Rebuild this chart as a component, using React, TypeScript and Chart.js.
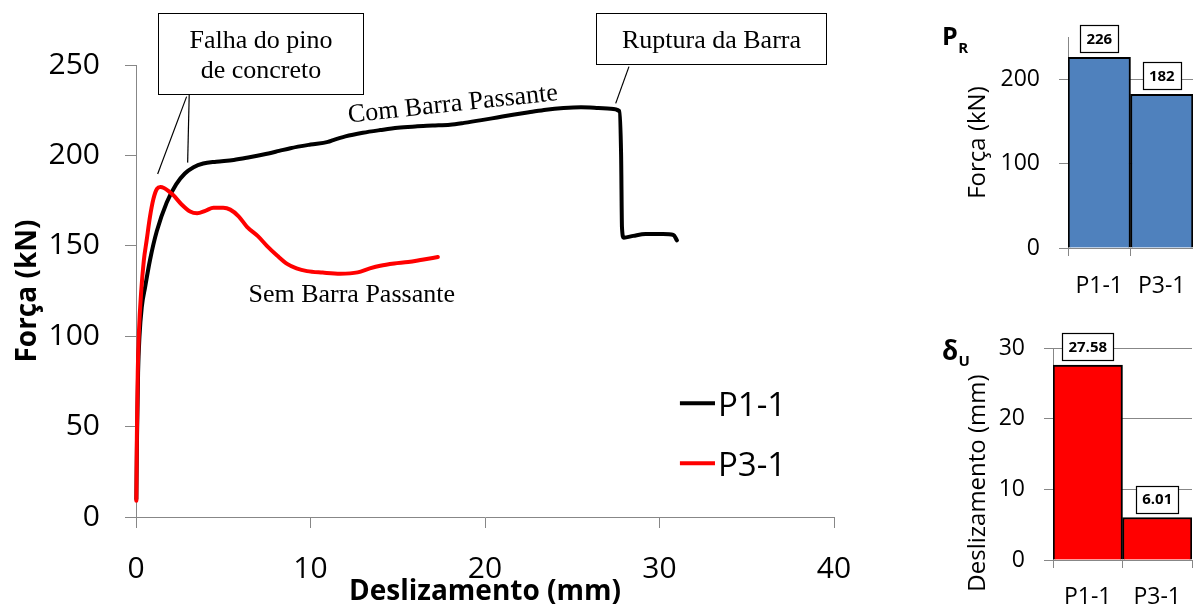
import React, { useEffect, useRef } from "react";
import { Chart, registerables } from "chart.js";

Chart.register(...registerables);

// ---------------- DATA ----------------
// P1-1 (com barra passante): slip (mm) vs force (kN)
const slipP1 = [
  0.02, 0.06, 0.12, 0.2, 0.33, 0.52, 0.8, 1.19, 1.76, 2.3, 2.8, 3.3, 3.85, 4.6, 5.6, 6.5, 7.3, 8.2, 8.85,
  10.0, 11.0, 11.3, 12.0, 13.0, 14.0, 15.0, 16.0, 17.0, 18.0, 18.8, 19.8, 20.7, 21.6, 22.6, 23.5, 24.5,
  25.5, 26.5, 27.2, 27.7, 27.8, 27.85, 27.95, 28.5, 29.2, 30.2, 30.8, 31.0,
];
const forceP1 = [
  10, 45, 80, 100, 116, 127, 142, 158, 174, 184, 190, 193.5, 195.5, 196.5, 197.5, 199, 200.5, 202.5, 204,
  206, 207.5, 208.5, 210.5, 212.5, 214, 215.3, 216, 216.5, 217, 218, 219.5, 221, 222.5, 224, 225.3, 226.2,
  226.6, 226.2, 225.8, 224.5, 200, 160, 154.5, 155.5, 156.5, 156.5, 156, 153,
];
// P3-1 (sem barra passante)
const slipP3 = [
  0.02, 0.05, 0.1, 0.17, 0.3, 0.45, 0.61, 0.8, 1.0, 1.2, 1.4, 1.6, 1.9, 2.14, 2.6, 3.1, 3.5, 4.0, 4.44,
  5.0, 5.4, 5.88, 6.36, 7.0, 7.5, 8.1, 8.66, 9.2, 9.8, 10.7, 11.7, 12.7, 13.4, 14.0, 14.8, 15.6, 16.4, 17.3,
];
const forceP3 = [
  9, 45, 80, 103, 125, 142, 153, 166, 176, 181.5, 182.5, 182, 180, 178, 173, 169, 168, 169.5, 171,
  171, 170, 166.3, 160.5, 155.2, 150, 144.5, 140, 137.5, 136, 135.2, 134.6, 135.3, 137.5, 139, 140.2, 141, 142.3, 143.8,
];
const seriesLabels = ["P1-1", "P3-1"];
const seriesColors = ["#000000", "#ff0000"];

// bar charts
const barCategories = ["P1-1", "P3-1"];
const ultimateForce = [226, 182];
const ultimateSlip = [27.58, 6.01];

// ---------------- STYLE / LAYOUT ----------------
const SANS = "'Open Sans', 'Noto Sans', sans-serif";
const SERIF = "'Liberation Serif', 'Times New Roman', serif";
const AXIS_GREY = "#878787";

// annotation placement (in axis units of the main chart)
const calloutBoxes = [
  { lines: ["Falha do pino", "de concreto"], x1: 1.24, x2: 13.03, yTop: 278.6, yBottom: 233.8, baselines: [259.2, 242.6] },
  { lines: ["Ruptura da Barra"], x1: 26.34, x2: 39.52, yTop: 278.6, yBottom: 250.4, baselines: [259.2] },
];
const leaderLines = [
  { from: [2.9, 232.5], to: [1.24, 189.7] },
  { from: [3.05, 234], to: [2.96, 196] },
  { from: [28.25, 249.1], to: [27.49, 228.8] },
];
const curveLabels = [
  { text: "Com Barra Passante", x: 18.2, y: 224.4, angle: -6.1 },
  { text: "Sem Barra Passante", x: 12.36, y: 119.1, angle: 0 },
];
const legendPos = { x1: 31.17, x2: 33.18, textX: 33.35, lineYs: [62.9, 29.7], baselines: [56.0, 22.8] };

const annotationPlugin = {
  id: "annotations",
  afterDraw(chart: any) {
    const { ctx } = chart;
    const xs = chart.scales.x;
    const ys = chart.scales.y;
    const px = (v: number) => xs.getPixelForValue(v);
    const py = (v: number) => ys.getPixelForValue(v);
    ctx.save();
    // leader lines
    ctx.strokeStyle = "#000";
    ctx.lineWidth = 1.2;
    for (const l of leaderLines) {
      ctx.beginPath();
      ctx.moveTo(px(l.from[0]), py(l.from[1]));
      ctx.lineTo(px(l.to[0]), py(l.to[1]));
      ctx.stroke();
    }
    // callout boxes
    ctx.font = `26px ${SERIF}`;
    for (const b of calloutBoxes) {
      const x1 = Math.round(px(b.x1)) + 0.5;
      const x2 = Math.round(px(b.x2)) + 0.5;
      const y1 = Math.round(py(b.yTop)) + 0.5;
      const y2 = Math.round(py(b.yBottom)) + 0.5;
      ctx.fillStyle = "#fff";
      ctx.fillRect(x1, y1, x2 - x1, y2 - y1);
      ctx.strokeStyle = "#000";
      ctx.lineWidth = 1;
      ctx.strokeRect(x1, y1, x2 - x1, y2 - y1);
      ctx.fillStyle = "#000";
      ctx.textAlign = "center";
      ctx.textBaseline = "alphabetic";
      b.lines.forEach((t, i) => ctx.fillText(t, (x1 + x2) / 2, py(b.baselines[i])));
    }
    // curve labels
    for (const c of curveLabels) {
      ctx.save();
      ctx.translate(px(c.x), py(c.y));
      ctx.rotate((c.angle * Math.PI) / 180);
      ctx.fillStyle = "#000";
      ctx.textAlign = "center";
      ctx.textBaseline = "alphabetic";
      ctx.fillText(c.text, 0, 0);
      ctx.restore();
    }
    // legend
    ctx.font = `33px ${SANS}`;
    ctx.textAlign = "left";
    ctx.textBaseline = "alphabetic";
    chart.data.datasets.forEach((ds: any, i: number) => {
      ctx.strokeStyle = ds.borderColor;
      ctx.lineWidth = 4;
      ctx.lineCap = "butt";
      ctx.beginPath();
      ctx.moveTo(px(legendPos.x1), py(legendPos.lineYs[i]));
      ctx.lineTo(px(legendPos.x2), py(legendPos.lineYs[i]));
      ctx.stroke();
      ctx.fillStyle = "#000";
      ctx.fillText(ds.label, px(legendPos.textX), py(legendPos.baselines[i]));
    });
    ctx.restore();
  },
};

function MainChart() {
  const ref = useRef<HTMLCanvasElement | null>(null);
  useEffect(() => {
    if (!ref.current) return;
    const mk = (xsArr: number[], ysArr: number[]) => xsArr.map((x, i) => ({ x, y: ysArr[i] }));
    const lineStyle = {
      borderWidth: 4,
      pointRadius: 0,
      cubicInterpolationMode: "monotone",
      borderCapStyle: "round",
      borderJoinStyle: "round",
      clip: false,
    };
    const chart = new Chart(ref.current, {
      type: "line",
      data: {
        datasets: [
          {
            label: seriesLabels[0],
            data: mk(slipP1, forceP1),
            borderColor: seriesColors[0],
            backgroundColor: seriesColors[0],
            ...lineStyle,
            order: 1,
          },
          {
            label: seriesLabels[1],
            data: mk(slipP3, forceP3),
            borderColor: seriesColors[1],
            backgroundColor: seriesColors[1],
            ...lineStyle,
            order: 0,
          },
        ],
      } as any,
      options: {
        animation: false,
        responsive: false,
        maintainAspectRatio: false,
        layout: { padding: { left: 0, top: 65, right: 46, bottom: 0 } },
        plugins: { legend: { display: false }, tooltip: { enabled: false } },
        scales: {
          x: {
            type: "linear",
            min: 0,
            max: 40,
            ticks: { stepSize: 10, color: "#000", font: { family: SANS, size: 30 }, padding: 23 },
            grid: { drawOnChartArea: false, drawTicks: true, tickLength: 11, color: AXIS_GREY },
            border: { display: true, color: AXIS_GREY, width: 1 },
            title: {
              display: true,
              text: "Deslizamento (mm)",
              color: "#000",
              font: { family: SANS, size: 28, weight: "bold" },
              padding: { top: 0, bottom: 1 },
            },
            afterFit: (s: any) => {
              s.height = 93;
              s.paddingLeft = 0;
              s.paddingRight = 0;
            },
          },
          y: {
            type: "linear",
            min: 0,
            max: 250,
            ticks: { stepSize: 50, color: "#000", font: { family: SANS, size: 30 }, padding: 25 },
            grid: { drawOnChartArea: false, drawTicks: true, tickLength: 11, color: AXIS_GREY },
            border: { display: true, color: AXIS_GREY, width: 1 },
            title: {
              display: true,
              text: "Força (kN)",
              color: "#000",
              font: { family: SANS, size: 28, weight: "bold" },
              padding: { top: 11, bottom: 0 },
            },
            afterFit: (s: any) => {
              s.width = 136;
              s.paddingTop = 0;
              s.paddingBottom = 0;
            },
          },
        },
      } as any,
      plugins: [annotationPlugin],
    });
    return () => chart.destroy();
  }, []);
  return <canvas ref={ref} width={880} height={610} style={{ position: "absolute", left: 0, top: 0 }} />;
}

interface BarProps {
  values: number[];
  color: string;
  yMax: number;
  yStep: number;
  yTitle: string;
  titleCenterY: number;
  symbol: string;
  sub: string;
  symbolBaseline: number;
  subBaseline: number;
  symbolSize: number;
  top: number;
  height: number;
  padTop: number;
  axisWidth: number;
  xHeight: number;
  padRight: number;
  xLabelPad: number;
}

function BarChart(p: BarProps) {
  const ref = useRef<HTMLCanvasElement | null>(null);
  useEffect(() => {
    if (!ref.current) return;
    const labelsPlugin = {
      id: "barExtras",
      afterDatasetsDraw(chart: any) {
        const { ctx } = chart;
        const meta = chart.getDatasetMeta(0);
        const ds = chart.data.datasets[0];
        ctx.save();
        ctx.font = `bold 15px ${SANS}`;
        meta.data.forEach((el: any, i: number) => {
          const text = String(ds.data[i]);
          const w = Math.round(ctx.measureText(text).width + 12);
          const h = 27;
          const cx = el.x;
          const cy = el.y - 18.5;
          const x0 = Math.round(cx - w / 2) + 0.5;
          const y0 = Math.round(cy - h / 2) + 0.5;
          ctx.fillStyle = "#fff";
          ctx.fillRect(x0, y0, w, h);
          ctx.strokeStyle = "#000";
          ctx.lineWidth = 1.2;
          ctx.strokeRect(x0, y0, w, h);
          ctx.fillStyle = "#000";
          ctx.textAlign = "center";
          ctx.textBaseline = "middle";
          ctx.fillText(text, cx, cy + 1);
        });
        // axis title
        ctx.save();
        ctx.translate(78, p.titleCenterY);
        ctx.rotate(-Math.PI / 2);
        ctx.font = `24px ${SANS}`;
        ctx.textAlign = "center";
        ctx.textBaseline = "middle";
        ctx.fillText(p.yTitle, 0, 0);
        ctx.restore();
        // symbol with subscript
        ctx.textAlign = "left";
        ctx.textBaseline = "alphabetic";
        ctx.font = `bold ${p.symbolSize}px ${SANS}`;
        ctx.fillText(p.symbol, 42, p.symbolBaseline);
        const sw = ctx.measureText(p.symbol).width;
        ctx.font = `bold 15px ${SANS}`;
        ctx.fillText(p.sub, 42 + sw + 0.5, p.subBaseline);
        ctx.restore();
      },
    };
    const chart = new Chart(ref.current, {
      type: "bar",
      data: {
        labels: barCategories,
        datasets: [
          {
            data: p.values,
            backgroundColor: p.color,
            borderColor: "#000",
            borderWidth: 2,
            barPercentage: 1,
            categoryPercentage: 1,
          },
        ],
      },
      options: {
        animation: false,
        responsive: false,
        maintainAspectRatio: false,
        layout: { padding: { left: 0, top: p.padTop, right: p.padRight, bottom: 0 } },
        plugins: { legend: { display: false }, tooltip: { enabled: false } },
        scales: {
          x: {
            type: "category",
            offset: true,
            ticks: { color: "#000", font: { family: SANS, size: 23 }, padding: p.xLabelPad },
            grid: { offset: true, drawOnChartArea: false, drawTicks: true, tickLength: 8, color: AXIS_GREY },
            border: { display: true, color: AXIS_GREY, width: 1 },
            afterFit: (s: any) => {
              s.height = p.xHeight;
              s.paddingLeft = 0;
              s.paddingRight = 0;
            },
          },
          y: {
            type: "linear",
            min: 0,
            max: p.yMax,
            ticks: { stepSize: p.yStep, includeBounds: false, color: "#000", font: { family: SANS, size: 23 }, padding: 19 },
            grid: { drawOnChartArea: true, drawTicks: true, tickLength: 9, color: AXIS_GREY },
            border: { display: true, color: AXIS_GREY, width: 1 },
            afterFit: (s: any) => {
              s.width = p.axisWidth;
              s.paddingTop = 0;
              s.paddingBottom = 0;
            },
          },
        },
      } as any,
      plugins: [labelsPlugin],
    });
    return () => chart.destroy();
  }, []);
  return (
    <canvas ref={ref} width={293} height={p.height} style={{ position: "absolute", left: 900, top: p.top }} />
  );
}

export default function App() {
  return (
    <div style={{ position: "fixed", left: 0, top: 0, width: 1193, height: 610, background: "#fff", overflow: "hidden" }}>
      <MainChart />
      <BarChart
        values={ultimateForce}
        color="#4f81bd"
        yMax={250}
        yStep={100}
        yTitle="Força (kN)"
        titleCenterY={142.5}
        symbol="P"
        sub="R"
        symbolBaseline={45}
        subBaseline={53}
        symbolSize={25}
        top={0}
        height={300}
        padTop={37}
        axisWidth={168}
        xHeight={52}
        padRight={0}
        xLabelPad={17}
      />
      <BarChart
        values={ultimateSlip}
        color="#ff0000"
        yMax={30}
        yStep={10}
        yTitle="Deslizamento (mm)"
        titleCenterY={183}
        symbol="δ"
        sub="U"
        symbolBaseline={60}
        subBaseline={66}
        symbolSize={26}
        top={300}
        height={310}
        padTop={48}
        axisWidth={153}
        xHeight={50}
        padRight={1}
        xLabelPad={16}
      />
    </div>
  );
}
